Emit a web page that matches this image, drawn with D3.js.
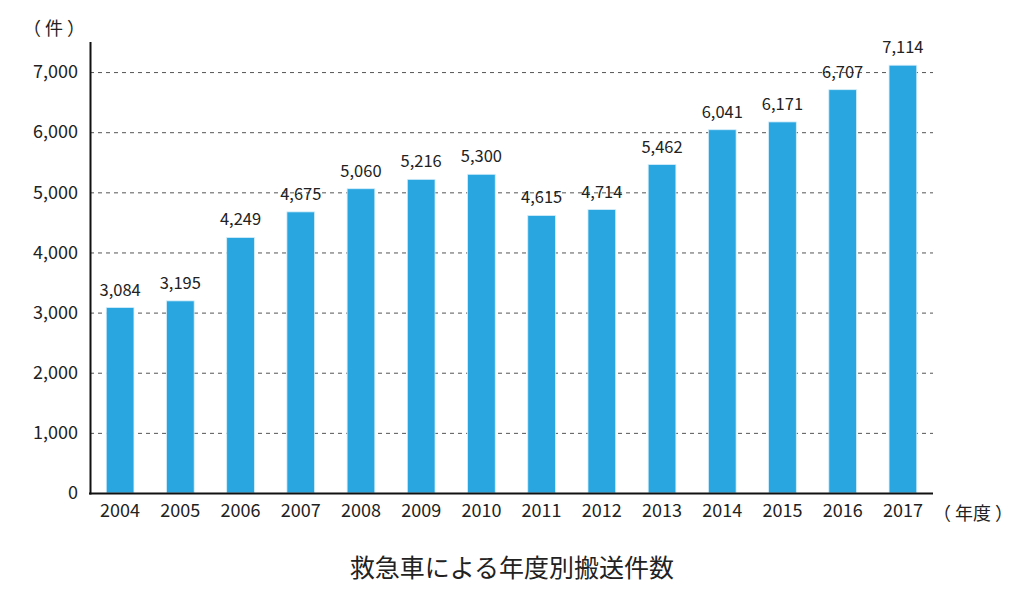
<!DOCTYPE html>
<html><head><meta charset="utf-8">
<script src="https://cdn.jsdelivr.net/npm/d3@7"></script>
<style>body{margin:0;background:#fff}svg{display:block}text{font-family:"Noto Sans CJK JP","Noto Sans",sans-serif;fill:#222}</style>
</head><body>
<script>
const years = ["2004","2005","2006","2007","2008","2009","2010","2011","2012","2013","2014","2015","2016","2017"];
const counts = [3084,3195,4249,4675,5060,5216,5300,4615,4714,5462,6041,6171,6707,7114];
const yTicks = [0,1000,2000,3000,4000,5000,6000,7000];
const yUnit = "（ 件 ）";
const xUnit = "（ 年度 ）";
const title = "救急車による年度別搬送件数";

const W=1024,H=603;
const svg=d3.select("body").append("svg").attr("width",W).attr("height",H);
const x=d3.scaleBand().domain(years).range([90,933]).paddingInner(0.54).paddingOuter(0.27);
const y=d3.scaleLinear().domain([0,7500]).range([493,42]);
const fmt=d3.format(",");

// gridlines
svg.append("g").selectAll("line").data(yTicks.filter(d=>d>0)).join("line")
  .attr("x1",90).attr("x2",933).attr("y1",d=>y(d)+0.5).attr("y2",d=>y(d)+0.5)
  .attr("stroke","#555").attr("stroke-width",1).attr("stroke-dasharray","4,4");

// bars
svg.append("g").selectAll("rect").data(counts).join("rect")
  .attr("x",(d,i)=>x(years[i])).attr("width",x.bandwidth())
  .attr("y",d=>y(d)).attr("height",d=>y(0)-y(d))
  .attr("fill","#29A6E0").attr("stroke","#d6eefa").attr("stroke-width",0.8);

// value labels
svg.append("g").selectAll("text").data(counts).join("text")
  .attr("x",(d,i)=>x(years[i])+x.bandwidth()/2).attr("y",d=>y(d)-12)
  .attr("text-anchor","middle").attr("font-size",16.5).text(d=>fmt(d));

// y axis
const ya=svg.append("g").attr("transform","translate(90,0)")
  .call(d3.axisLeft(y).tickValues(yTicks).tickFormat(fmt).tickSize(0).tickPadding(12));
ya.select(".domain").remove();
ya.selectAll("text").attr("font-size",18).attr("font-family",'"Noto Sans CJK JP",sans-serif').attr("fill","#222");
svg.append("line").attr("x1",90.5).attr("x2",90.5).attr("y1",42).attr("y2",494.5).attr("stroke","#111").attr("stroke-width",2);

// x axis
const xa=svg.append("g").attr("transform","translate(0,493)")
  .call(d3.axisBottom(x).tickSize(0).tickPadding(11));
xa.select(".domain").remove();
xa.selectAll("text").attr("font-size",18).attr("font-family",'"Noto Sans CJK JP",sans-serif').attr("fill","#222");
svg.append("line").attr("x1",89).attr("x2",933).attr("y1",493.5).attr("y2",493.5).attr("stroke","#111").attr("stroke-width",2);

svg.append("text").attr("x",54).attr("y",35).attr("text-anchor","middle").attr("font-size",18).text(yUnit);
svg.append("text").attr("x",973).attr("y",520).attr("text-anchor","middle").attr("font-size",18).text(xUnit);
svg.append("text").attr("x",512).attr("y",577).attr("text-anchor","middle").attr("font-size",25).text(title);
</script>
</body></html>
